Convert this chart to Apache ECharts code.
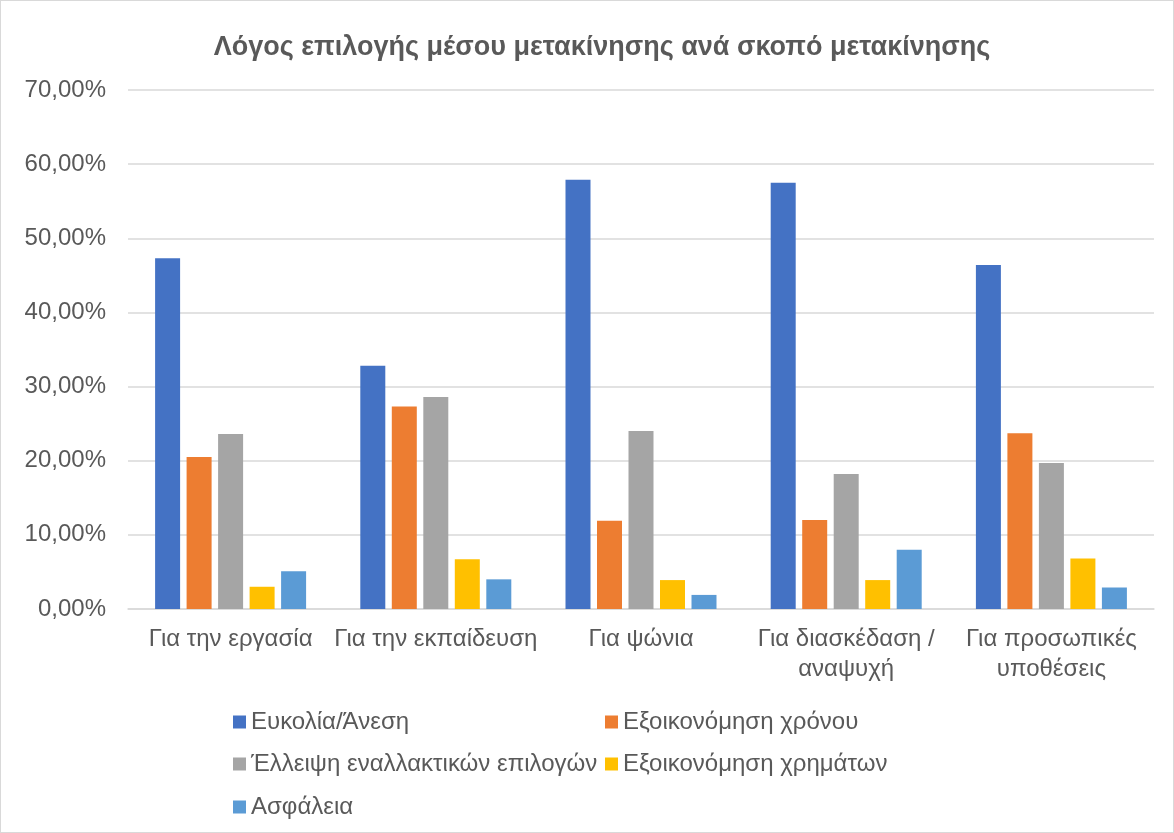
<!DOCTYPE html>
<html>
<head>
<meta charset="utf-8">
<script src="https://cdn.jsdelivr.net/npm/echarts@6/dist/echarts.min.js"></script>
<style>
html,body{margin:0;padding:0;background:#fff;}
#c{width:1174px;height:833px;box-sizing:border-box;border:1px solid #d9d9d9;}
</style>
</head>
<body>
<div id="c"></div>
<script>
const titleText = 'Λόγος επιλογής μέσου μετακίνησης ανά σκοπό μετακίνησης';
const categories = ['Για την εργασία', 'Για την εκπαίδευση', 'Για ψώνια', 'Για διασκέδαση /\nαναψυχή', 'Για προσωπικές\nυποθέσεις'];
const seriesNames = ['Ευκολία/Άνεση', 'Εξοικονόμηση χρόνου', 'Έλλειψη εναλλακτικών επιλογών', 'Εξοικονόμηση χρημάτων', 'Ασφάλεια'];
const ease = [47.3, 32.8, 57.9, 57.5, 46.4];
const timeSaving = [20.5, 27.3, 11.9, 12.0, 23.7];
const noAlternatives = [23.6, 28.6, 24.0, 18.2, 19.7];
const moneySaving = [3.0, 6.7, 3.9, 3.9, 6.8];
const safety = [5.1, 4.0, 1.9, 8.0, 2.9];
const colors = ['#4472C4', '#ED7D31', '#A5A5A5', '#FFC000', '#5B9BD5'];
const values = [ease, timeSaving, noAlternatives, moneySaving, safety];

const font = 'Liberation Sans, Arial, sans-serif';
const txt = '#595959';
const legendPos = [[232, 709], [604, 709], [232, 751], [604, 751], [232, 794]];

const chart = echarts.init(document.getElementById('c'), null, {renderer: 'canvas'});
chart.setOption({
  animation: false,
  title: {
    text: titleText, left: 596, top: 28, textAlign: 'center',
    textStyle: {fontFamily: font, fontSize: 27, fontWeight: 'bold', color: txt}
  },
  color: colors,
  legend: seriesNames.map((n, i) => ({
    data: [n], left: legendPos[i][0], top: legendPos[i][1],
    itemWidth: 13, itemHeight: 13, icon: 'rect', padding: 0,
    textStyle: {fontFamily: font, fontSize: 24, color: txt}
  })),
  grid: {left: 127, right: 19, top: 89, bottom: 223},
  xAxis: {
    type: 'category', data: categories,
    axisLine: {lineStyle: {color: '#d9d9d9', width: 1.5}},
    axisTick: {show: false},
    axisLabel: {fontFamily: font, fontSize: 24, color: txt, margin: 15, lineHeight: 30, interval: 0}
  },
  yAxis: {
    type: 'value', min: 0, max: 70, interval: 10,
    axisLine: {show: false}, axisTick: {show: false},
    splitLine: {lineStyle: {color: '#d9d9d9', width: 1.5}},
    axisLabel: {
      fontFamily: font, fontSize: 24, color: txt, margin: 22,
      formatter: v => v.toFixed(2).replace('.', ',') + '%'
    }
  },
  series: seriesNames.map((n, i) => ({
    name: n, type: 'bar', data: values[i],
    barWidth: 25, barGap: '26%',
    itemStyle: {color: colors[i]}
  }))
});
</script>
</body>
</html>
